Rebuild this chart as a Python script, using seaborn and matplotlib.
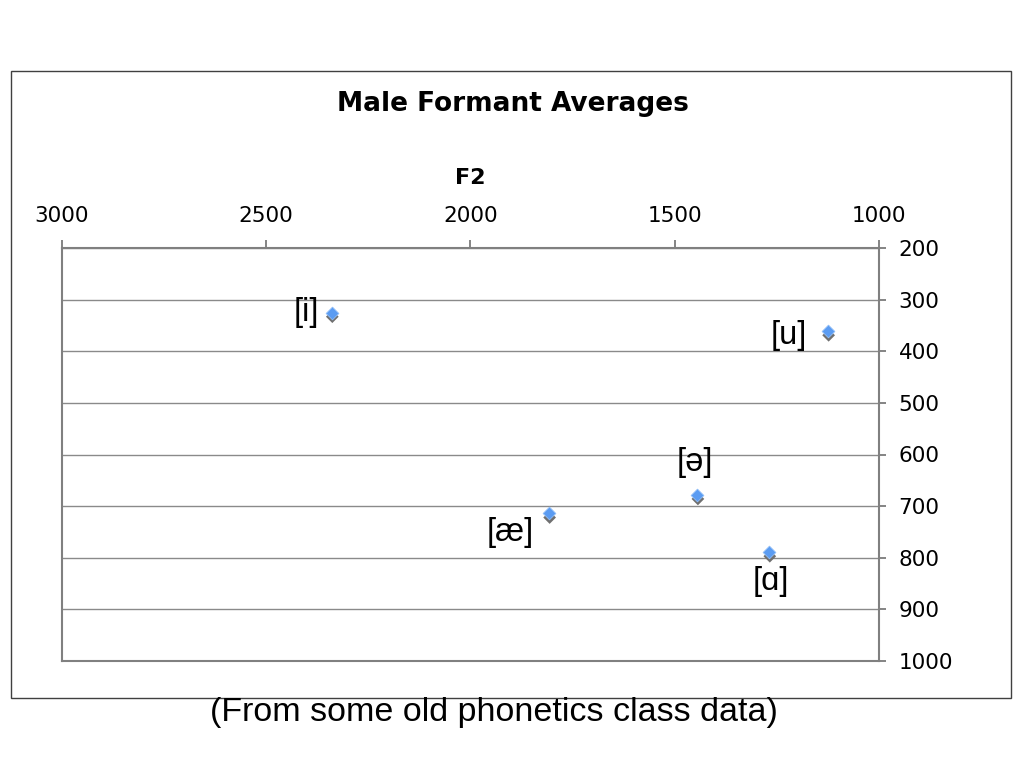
import numpy as np
import pandas as pd
import matplotlib
matplotlib.use("Agg")
import matplotlib.pyplot as plt
import matplotlib.transforms as mtransforms
from matplotlib.patches import Rectangle
import seaborn as sns

# formant averages (Hz)
vowels = ["[i]", "[u]", "[ə]", "[æ]", "[ɑ]"]
f2 = [2340, 1125, 1445, 1808, 1269]
f1 = [325, 361, 678, 714, 789]

# label placement relative to each point (offset in points, horizontal alignment)
label_offsets = [(-9, 0, "right"),
                 (-15, -3.5, "right"),
                 (-2, 23, "center"),
                 (-11, -13.5, "right"),
                 (1.5, -21, "center")]

x_ticks = [3000, 2500, 2000, 1500, 1000]
y_ticks = [200, 300, 400, 500, 600, 700, 800, 900, 1000]

df = pd.DataFrame({"vowel": vowels, "F2": f2, "F1": f1})

sns.set_theme(style="white")
plt.rcParams['font.family'] = ['DejaVu Sans']
plt.rcParams['text.color'] = 'black'
plt.rcParams['xtick.color'] = 'black'
plt.rcParams['ytick.color'] = 'black'
plt.rcParams['axes.labelcolor'] = 'black'

fig = plt.figure(figsize=(10.24, 7.68), dpi=100)
ax = fig.add_axes([62/1024, 1-661/768, 817/1024, 413/768])

# shadow markers (gray, shifted a few px down)
sns.scatterplot(data=df, x="F2", y="F1", marker="D", s=42, color="#707070",
                edgecolor="none", ax=ax, zorder=3)
shift = mtransforms.ScaledTranslation(0.5/72, -3/72, fig.dpi_scale_trans)
ax.collections[-1].set_offset_transform(ax.transData + shift)

# main markers
sns.scatterplot(data=df, x="F2", y="F1", marker="D", s=42, color="#5b9cf2",
                edgecolor="#8fbdf7", linewidth=0.6, ax=ax, zorder=4)

for i in range(len(vowels)):
    dx, dy, ha = label_offsets[i]
    ax.annotate(vowels[i], (f2[i], f1[i]), xytext=(dx, dy), textcoords="offset points",
                ha=ha, va="center", fontsize=23.5, family=["Liberation Sans", "DejaVu Sans"])

ax.set_xlim(3000, 1000)
ax.set_ylim(1000, 200)
ax.set_xticks(x_ticks)
ax.set_yticks(y_ticks)
ax.xaxis.tick_top()
ax.yaxis.tick_right()
ax.xaxis.set_label_position("top")
ax.set_xlabel("F2", fontsize=16, fontweight="bold", labelpad=16)
ax.set_ylabel("")

ax.tick_params(axis="x", top=True, bottom=False, direction="out", length=6, width=1.2,
               color="#707070", labelsize=15.5, pad=9.5)
ax.tick_params(axis="y", right=True, left=False, direction="out", length=5, width=1.2,
               color="#707070", labelsize=15.5, pad=9)

ax.grid(axis="y", color="#8a8a8a", linewidth=1)
ax.grid(axis="x", visible=False)
for side in ["left", "bottom", "top", "right"]:
    ax.spines[side].set_visible(True)
    ax.spines[side].set_color("#808080")
    ax.spines[side].set_linewidth(1.5)

# chart frame, title and note
fig.patches.append(Rectangle((11/1024, 1-698/768), 1000/1024, 627/768,
                             transform=fig.transFigure, fill=False,
                             edgecolor="#404040", linewidth=1))
fig.text(513/1024, 1-104/768, "Male Formant Averages", ha="center", va="center",
         fontsize=19, fontweight="bold")
fig.text(494/1024, 1-713/768, "(From some old phonetics class data)", ha="center",
         va="center", fontsize=24.5, family=["Liberation Sans", "DejaVu Sans"])

fig.savefig("out.png", dpi=100)
